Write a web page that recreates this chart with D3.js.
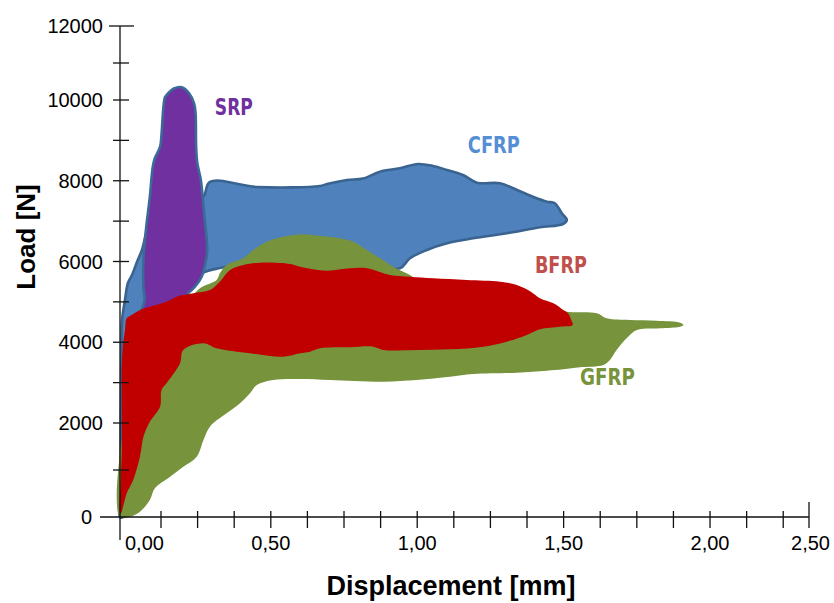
<!DOCTYPE html>
<html>
<head>
<meta charset="utf-8">
<script src="https://cdn.jsdelivr.net/npm/d3@7"></script>
<style>
  html, body { margin: 0; padding: 0; background: #ffffff; }
  svg { display: block; }
</style>
</head>
<body>
<svg id="chart" width="834" height="603"></svg>
<script>
// ---------------- data (displacement [mm], load [N]) ----------------
const seriesNames = ["CFRP", "SRP", "GFRP", "BFRP"];

const cfrp = [
  [-0.015, 0], [-0.013, 787], [-0.012, 2074], [-0.010, 3808], [-0.008, 4551],
  [0.002, 5047], [0.012, 5468], [0.026, 5666], [0.043, 5988], [0.060, 6285],
  [0.087, 6904], [0.173, 7400], [0.268, 7598], [0.292, 7970], [0.453, 7846],
  [0.668, 7870], [0.692, 7920], [0.760, 8019], [0.815, 8056], [0.873, 8225],
  [0.941, 8309], [1.003, 8415], [1.054, 8366], [1.102, 8267], [1.156, 8143],
  [1.204, 7952], [1.283, 7937], [1.341, 7771], [1.395, 7605], [1.443, 7482],
  [1.470, 7442], [1.494, 7194], [1.511, 7028], [1.498, 6929], [1.419, 6847],
  [1.306, 6699], [1.191, 6575], [1.102, 6451], [1.033, 6285], [0.975, 6080],
  [0.941, 5832], [0.839, 5889], [0.600, 5988], [0.429, 5938], [0.326, 5839],
  [0.268, 5716], [0.234, 5468], [0.190, 5096], [0.105, 4551], [0.046, 3065],
  [0.009, 1426], [-0.005, 0]
];

const srp = [
  [0.153, 10208], [0.169, 10311], [0.196, 10343], [0.221, 10181], [0.238, 9919],
  [0.243, 9679], [0.245, 8844], [0.249, 8440], [0.261, 8019], [0.272, 7202],
  [0.283, 6285], [0.279, 6038], [0.264, 5624], [0.241, 5376], [0.218, 5213],
  [0.190, 4923], [0.122, 4749], [0.070, 4650], [0.059, 4724], [0.069, 5047],
  [0.065, 5376], [0.065, 6038], [0.070, 6533], [0.076, 6947], [0.087, 7605],
  [0.097, 8349], [0.104, 8557], [0.122, 8844], [0.127, 9176], [0.133, 9795],
  [0.139, 10081]
];

const gfrp = [
  [-0.015, 0], [0.019, 6], [0.053, 113], [0.087, 362], [0.104, 611],
  [0.156, 858], [0.201, 1070], [0.247, 1283], [0.270, 1639], [0.292, 1922],
  [0.349, 2240], [0.395, 2488], [0.429, 2736], [0.452, 2941], [0.508, 3065],
  [0.600, 3090], [0.702, 3065], [0.884, 3023], [0.998, 3065], [1.112, 3147],
  [1.191, 3214], [1.340, 3246], [1.442, 3295], [1.499, 3330], [1.556, 3380],
  [1.636, 3437], [1.658, 3561], [1.681, 3808], [1.715, 4098], [1.750, 4304],
  [1.829, 4346], [1.898, 4385], [1.909, 4427], [1.898, 4484], [1.818, 4533],
  [1.727, 4551], [1.647, 4593], [1.613, 4717], [1.510, 4756], [1.419, 4898],
  [1.214, 5245], [1.010, 5493], [0.975, 5666], [0.918, 5872], [0.873, 6080],
  [0.828, 6285], [0.782, 6491], [0.713, 6600], [0.668, 6632], [0.611, 6674],
  [0.543, 6615], [0.486, 6491], [0.440, 6285], [0.406, 6080], [0.349, 5914],
  [0.326, 5708], [0.315, 5542], [0.258, 5337], [0.207, 4923], [0.087, 4056],
  [0.002, 2074]
];

const bfrp = [
  [-0.015, 85], [-0.013, 724], [-0.009, 1426], [-0.009, 2570], [-0.009, 3395],
  [-0.004, 3974], [0.002, 4304], [0.008, 4593], [0.025, 4675], [0.053, 4799],
  [0.087, 4881], [0.144, 5005], [0.178, 5129], [0.236, 5213], [0.292, 5294],
  [0.326, 5500], [0.361, 5790], [0.406, 5914], [0.463, 5971], [0.566, 5938],
  [0.600, 5872], [0.691, 5772], [0.770, 5832], [0.828, 5832], [0.907, 5666],
  [0.975, 5624], [1.055, 5584], [1.169, 5542], [1.283, 5500], [1.340, 5418],
  [1.388, 5252], [1.419, 5089], [1.465, 4965], [1.499, 4799], [1.515, 4717],
  [1.526, 4551], [1.531, 4427], [1.488, 4385], [1.419, 4321], [1.374, 4180],
  [1.306, 4014], [1.226, 3890], [1.112, 3826], [0.998, 3808], [0.884, 3808],
  [0.850, 3890], [0.770, 3875], [0.668, 3850], [0.634, 3766], [0.600, 3726],
  [0.543, 3642], [0.429, 3726], [0.315, 3850], [0.270, 3974], [0.201, 3808],
  [0.190, 3479], [0.144, 2983], [0.127, 2817], [0.122, 2404], [0.099, 2156],
  [0.087, 2032], [0.065, 1709], [0.053, 1283], [0.030, 787], [0.008, 504],
  [-0.012, 79]
];

// series-name labels: [name, displacement, load] of the text baseline start
const labelPoints = [
  ["SRP", 0.309, 9629],
  ["CFRP", 1.173, 8688],
  ["BFRP", 1.402, 5716],
  ["GFRP", 1.556, 2941]
];

const yMajorTicks = [0, 2000, 4000, 6000, 8000, 10000, 12000];
const yMinorTicks = [1000, 3000, 5000, 7000, 9000, 11000];
const xTickValues = [0.125, 0.25, 0.375, 0.5, 0.625, 0.75, 0.875, 1.0, 1.125, 1.25,
                     1.375, 1.5, 1.625, 1.75, 1.875, 2.0, 2.125, 2.25];
const xLabelValues = [0, 0.5, 1.0, 1.5, 2.0, 2.5];
const xLabelTexts = ["0,00", "0,50", "1,00", "1,50", "2,00", "2,50"];

// ---------------- styles ----------------
const colors = {
  CFRP: { fill: "#4f81bd", stroke: "#3a6390", label: "#558ed5", w: 52 },
  SRP:  { fill: "#7030a0", stroke: "#3c6a98", label: "#7030a0", w: 38 },
  GFRP: { fill: "#77933c", stroke: "none",    label: "#77933c", w: 55 },
  BFRP: { fill: "#c00000", stroke: "none",    label: "#c0504d", w: 52 }
};

// ---------------- scales ----------------
const x = d3.scaleLinear().domain([-0.015, 2.338]).range([120, 809]);
const y = d3.scaleLinear().domain([0, 2000, 10000, 12000]).range([517, 423, 100, 26]);

const svg = d3.select("#chart");

// ---------------- shapes ----------------
const area = d3.line()
  .x(d => x(d[0]))
  .y(d => y(d[1]))
  .curve(d3.curveCatmullRomClosed.alpha(0.5));

const seriesData = { CFRP: cfrp, SRP: srp, GFRP: gfrp, BFRP: bfrp };
const gShapes = svg.append("g");
seriesNames.forEach(name => {
  const c = colors[name];
  gShapes.append("path")
    .attr("d", area(seriesData[name]))
    .attr("fill", c.fill)
    .attr("stroke", c.stroke)
    .attr("stroke-width", c.stroke === "none" ? 0 : 2.6)
    .attr("stroke-linejoin", "round");
});

// ---------------- axes ----------------
const axisColor = "#111";
const gAxes = svg.append("g");
const x0 = x(-0.015);
const xEnd = x(2.338);
const yAxisX = x0;

gAxes.append("line")
  .attr("x1", yAxisX).attr("x2", yAxisX)
  .attr("y1", y(12000)).attr("y2", y(0) + 23)
  .attr("stroke", axisColor).attr("stroke-width", 1.3);

gAxes.append("line")
  .attr("x1", yAxisX - 20).attr("x2", xEnd)
  .attr("y1", y(0)).attr("y2", y(0))
  .attr("stroke", axisColor).attr("stroke-width", 1.3);

gAxes.selectAll(".ymaj").data(yMajorTicks.filter(v => v > 0)).join("line")
  .attr("x1", d => d === 12000 ? yAxisX - 11 : yAxisX - 7)
  .attr("x2", d => d === 12000 ? yAxisX + 14 : yAxisX + 9)
  .attr("y1", d => y(d)).attr("y2", d => y(d))
  .attr("stroke", axisColor).attr("stroke-width", 1.3);
gAxes.selectAll(".ymin").data(yMinorTicks).join("line")
  .attr("x1", yAxisX - 7).attr("x2", yAxisX + 9)
  .attr("y1", d => y(d)).attr("y2", d => y(d))
  .attr("stroke", axisColor).attr("stroke-width", 1.3);

gAxes.selectAll(".xt").data(xTickValues).join("line")
  .attr("x1", d => x(d)).attr("x2", d => x(d))
  .attr("y1", y(0) - 6).attr("y2", y(0) + 11)
  .attr("stroke", axisColor).attr("stroke-width", 1.3);
gAxes.append("line")
  .attr("x1", xEnd).attr("x2", xEnd)
  .attr("y1", y(0) - 15).attr("y2", y(0) + 11)
  .attr("stroke", axisColor).attr("stroke-width", 1.3);

const tickFont = "'Liberation Sans', Arial, sans-serif";
gAxes.selectAll(".yl").data(yMajorTicks).join("text")
  .attr("x", d => d === 0 ? yAxisX - 28 : yAxisX - 17)
  .attr("y", d => y(d))
  .attr("dy", "0.35em")
  .attr("text-anchor", "end")
  .attr("font-family", tickFont)
  .attr("font-size", 20)
  .attr("fill", "#000")
  .text(d => String(d));

const xl = gAxes.selectAll(".xl").data(xLabelValues).join("text")
  .attr("y", y(0) + 33)
  .attr("text-anchor", "middle")
  .attr("font-family", tickFont)
  .attr("font-size", 20)
  .attr("fill", "#000")
  .text((d, i) => xLabelTexts[i]);
xl.each(function(d) {
  const w = this.getComputedTextLength();
  let cx = x(d);
  cx = Math.max(cx, yAxisX + 5 + w / 2);
  cx = Math.min(cx, xEnd + 21 - w / 2);
  d3.select(this).attr("x", cx);
});

// axis titles
const titleFont = "'Liberation Sans', Arial, sans-serif";
svg.append("text")
  .attr("transform", "translate(35, 237) rotate(-90)")
  .attr("text-anchor", "middle")
  .attr("font-family", titleFont)
  .attr("font-weight", "bold")
  .attr("font-size", 26)
  .attr("fill", "#000")
  .text("Load [N]");

svg.append("text")
  .attr("x", 451)
  .attr("y", 595)
  .attr("text-anchor", "middle")
  .attr("font-family", titleFont)
  .attr("font-weight", "bold")
  .attr("font-size", 27)
  .attr("fill", "#000")
  .text("Displacement [mm]");

// series labels
svg.selectAll(".sl").data(labelPoints).join("text")
  .attr("x", d => x(d[1]))
  .attr("y", d => y(d[2]))
  .attr("font-family", "'DejaVu Sans Condensed', 'DejaVu Sans', sans-serif")
  .attr("font-weight", "bold")
  .attr("font-size", 22.5)
  .attr("textLength", d => colors[d[0]].w)
  .attr("lengthAdjust", "spacingAndGlyphs")
  .attr("fill", d => colors[d[0]].label)
  .text(d => d[0]);
</script>
</body>
</html>
